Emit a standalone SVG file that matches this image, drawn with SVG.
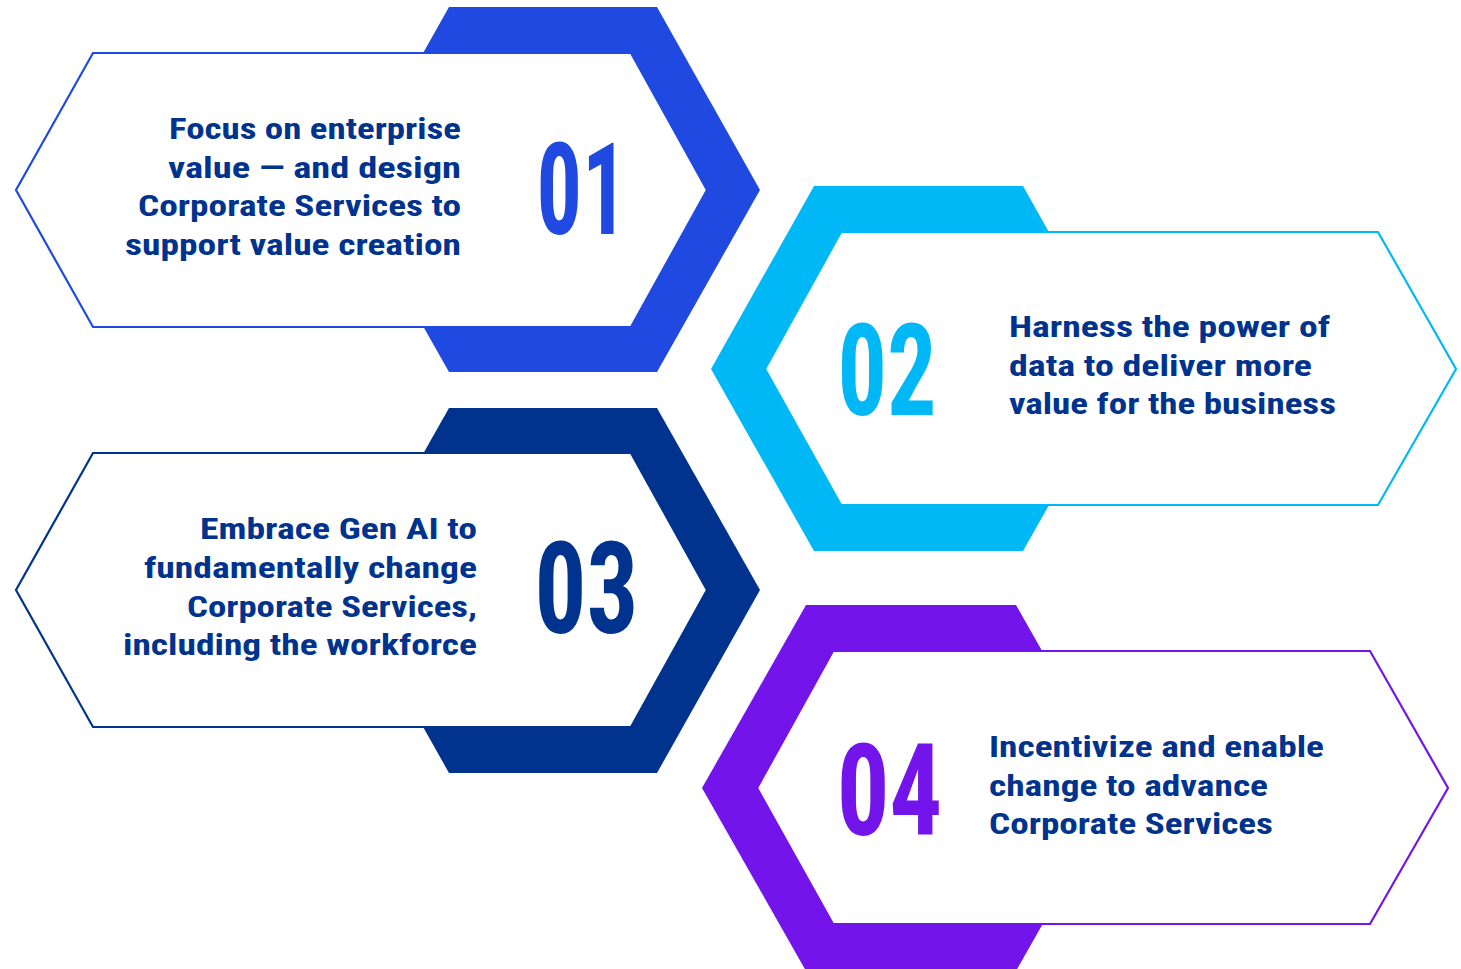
<svg xmlns="http://www.w3.org/2000/svg" width="1461" height="969" viewBox="0 0 1461 969">
<style>
.bg{fill:#ffffff}
.card{fill:#ffffff;stroke-width:2.2;stroke-linejoin:miter}
.t{font-family:"Liberation Sans Narrow","Roboto Condensed","DejaVu Sans Condensed","Liberation Sans",Arial,sans-serif;font-weight:bold;font-size:30px;fill:#00338D}
.num{font-family:"Liberation Sans Narrow","Roboto Condensed","DejaVu Sans Condensed","Liberation Sans",Arial,sans-serif;font-weight:bold;font-size:128px}
.c1{fill:#2049E1}.s1{stroke:#2049E1}
.c2{fill:#00B8F5}.s2{stroke:#00B8F5}
.c3{fill:#00338D}.s3{stroke:#00338D}
.c4{fill:#7214EA}.s4{stroke:#7214EA}
</style>
<rect class="bg" x="0" y="0" width="1461" height="969"/>
<g id="connectors"/>
<g id="node-01">
  <polygon class="c1" points="449,7 657,7 760,190 657,372 449,372 346,190"/>
  <polygon class="card s1" points="93,53 631,53 707,190 631,327 93,327 16,190"/>
  <text class="t">
    <tspan x="169" y="139" textLength="292" lengthAdjust="spacingAndGlyphs">Focus on enterprise</tspan>
    <tspan x="168" y="178" textLength="293" lengthAdjust="spacingAndGlyphs">value — and design</tspan>
    <tspan x="138" y="216" textLength="323" lengthAdjust="spacingAndGlyphs">Corporate Services to</tspan>
    <tspan x="125" y="255" textLength="336" lengthAdjust="spacingAndGlyphs">support value creation</tspan>
  </text>
  <text class="num c1" x="536.5" y="234" textLength="91" lengthAdjust="spacingAndGlyphs">01</text>
</g>
<g id="node-02">
  <polygon class="c2" points="814,186 1023,186 1126,369 1023,551 814,551 711,369"/>
  <polygon class="card s2" points="841,232 1378,232 1456,369 1378,505 841,505 765,369"/>
  <text class="t">
    <tspan x="1009" y="337" textLength="321" lengthAdjust="spacingAndGlyphs">Harness the power of</tspan>
    <tspan x="1009" y="376" textLength="303" lengthAdjust="spacingAndGlyphs">data to deliver more</tspan>
    <tspan x="1009" y="414" textLength="327" lengthAdjust="spacingAndGlyphs">value for the business</tspan>
  </text>
  <text class="num c2" x="837.6" y="415" textLength="99" lengthAdjust="spacingAndGlyphs">02</text>
</g>
<g id="node-03">
  <polygon class="c3" points="449,408 657,408 760,590 657,773 449,773 346,590"/>
  <polygon class="card s3" points="93,453 631,453 707,590 631,727 93,727 16,590"/>
  <text class="t">
    <tspan x="200" y="539" textLength="277" lengthAdjust="spacingAndGlyphs">Embrace Gen AI to</tspan>
    <tspan x="144" y="578" textLength="333" lengthAdjust="spacingAndGlyphs">fundamentally change</tspan>
    <tspan x="187" y="617" textLength="290" lengthAdjust="spacingAndGlyphs">Corporate Services,</tspan>
    <tspan x="123" y="655" textLength="354" lengthAdjust="spacingAndGlyphs">including the workforce</tspan>
  </text>
  <text class="num c3" x="534.6" y="633" textLength="104" lengthAdjust="spacingAndGlyphs">03</text>
</g>
<g id="node-04">
  <polygon class="c4" points="806,605 1016,605 1120,788 1016,971 806,971 702,788"/>
  <polygon class="card s4" points="833,651 1370,651 1448,788 1370,924 833,924 757,788"/>
  <text class="t">
    <tspan x="989" y="757" textLength="335" lengthAdjust="spacingAndGlyphs">Incentivize and enable</tspan>
    <tspan x="989" y="796" textLength="279" lengthAdjust="spacingAndGlyphs">change to advance</tspan>
    <tspan x="989" y="834" textLength="284" lengthAdjust="spacingAndGlyphs">Corporate Services</tspan>
  </text>
  <text class="num c4" x="836.7" y="835" textLength="105.6" lengthAdjust="spacingAndGlyphs">04</text>
</g>
</svg>
